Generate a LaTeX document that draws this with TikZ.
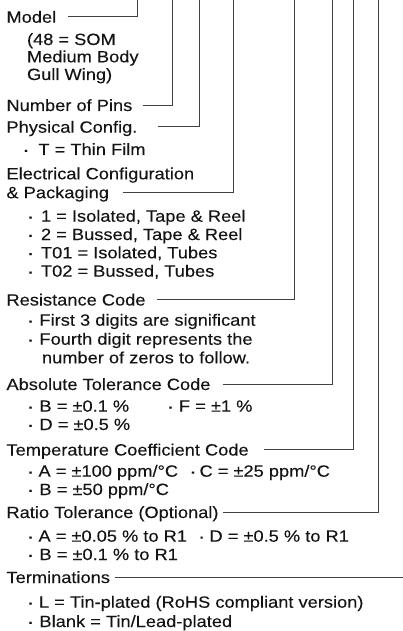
\documentclass[tikz,border=0pt]{standalone}
\usepackage{fontspec}
\setmainfont{Liberation Sans}[FakeStretch=1.12,FakeBold=0.15]
\newcommand{\lblfont}{\fontsize{16.3}{18}\selectfont}
\newcommand{\bulfont}{\fontsize{19}{20}\selectfont}
\begin{document}
\begin{tikzpicture}[x=1pt,y=-1pt,
  lbl/.style={anchor=base west,inner sep=0pt,outer sep=0pt,font=\lblfont,text=black!92},
  hdr/.style={lbl,text height=11.7pt,text depth=0pt},
  bul/.style={anchor=base,inner sep=0pt,outer sep=0pt,font=\bulfont,text=black!92,yshift=-1pt},
  conn/.style={draw=black!75,line width=1pt}]
\useasboundingbox (0,0) rectangle (403,631);

% headers and items
\node[hdr] (model) at (6.5,22.7) {Model};
\node[lbl] (m1) at (27,45) {(48 = SOM};
\node[lbl] (m2) at (27,62.3) {Medium Body};
\node[lbl] (m3) at (27,80) {Gull Wing)};
\node[hdr] (pins) at (6.5,111) {Number of Pins};
\node[hdr] (phys) at (6.5,132.7) {Physical Config.};
\node[bul] (b1) at (26,155) {·};
\node[lbl] (p1) at (38.5,155) {T = Thin Film};
\node[lbl] (elec1) at (6.5,179.3) {Electrical Configuration};
\node[hdr] (elec) at (6.5,198.2) {\& Packaging};
\node[bul] (b2) at (30.5,221.7) {·};
\node[lbl] (e1) at (41,221.7) {1 = Isolated, Tape \& Reel};
\node[bul] (b3) at (30.5,240) {·};
\node[lbl] (e2) at (41,240) {2 = Bussed, Tape \& Reel};
\node[bul] (b4) at (30.5,258.3) {·};
\node[lbl] (e3) at (41,258.3) {T01 = Isolated, Tubes};
\node[bul] (b5) at (30.5,276.7) {·};
\node[lbl] (e4) at (41,276.7) {T02 = Bussed, Tubes};
\node[hdr] (res) at (6.5,305.5) {Resistance Code};
\node[bul] (b6) at (30.5,325.7) {·};
\node[lbl] (r1) at (39.5,325.7) {First 3 digits are significant};
\node[bul] (b7) at (30.5,344.7) {·};
\node[lbl] (r2) at (39.5,344.7) {Fourth digit represents the};
\node[lbl] (r3) at (42,363.3) {number of zeros to follow.};
\node[hdr] (abs) at (6.5,390) {Absolute Tolerance Code};
\node[bul] (b8) at (30.5,411.7) {·};
\node[lbl] (a1) at (39.5,411.7) {B = ±0.1 \%};
\node[bul] (b9) at (170.5,411.7) {·};
\node[lbl] (a2) at (179,411.7) {F = ±1 \%};
\node[bul] (b10) at (30.5,430) {·};
\node[lbl] (a3) at (39.5,430) {D = ±0.5 \%};
\node[hdr] (temp) at (6.5,455.5) {Temperature Coefficient Code};
\node[bul] (b11) at (30.5,476.7) {·};
\node[lbl] (c1) at (38.5,476.7) {A = ±100 ppm/°C};
\node[bul] (b12) at (193,476.7) {·};
\node[lbl] (c2) at (199.5,476.7) {C = ±25 ppm/°C};
\node[bul] (b13) at (30.5,495) {·};
\node[lbl] (c3) at (39.5,495) {B = ±50 ppm/°C};
\node[hdr] (ratio) at (6.5,518) {Ratio Tolerance (Optional)};
\node[bul] (b14) at (30.5,541.7) {·};
\node[lbl] (t1a) at (38.5,541.7) {A = ±0.05 \% to R1};
\node[bul] (b15) at (201.7,541.7) {·};
\node[lbl] (t2a) at (209.5,541.7) {D = ±0.5 \% to R1};
\node[bul] (b16) at (30.5,560) {·};
\node[lbl] (t3a) at (39.5,560) {B = ±0.1 \% to R1};
\node[hdr] (term) at (6.5,583) {Terminations};
\node[bul] (b17) at (30.5,607.7) {·};
\node[lbl] (l1) at (39,607.7) {L = Tin-plated (RoHS compliant version)};
\node[bul] (b18) at (30.5,627) {·};
\node[lbl] (l2) at (39.5,627) {Blank = Tin/Lead-plated};

% connector ends
\coordinate (t1) at (137.7,0);
\coordinate (t2) at (172.7,0);
\coordinate (t3) at (199.3,0);
\coordinate (t4) at (233.7,0);
\coordinate (t5) at (294,0);
\coordinate (t6) at (332,0);
\coordinate (t7) at (353.7,0);
\coordinate (t8) at (378,0);
\coordinate (t9) at (403,0);
\coordinate (s1) at (68,0);
\coordinate (s2) at (143,0);
\coordinate (s3) at (158,0);
\coordinate (s4) at (122.7,0);
\coordinate (s5) at (156.7,0);
\coordinate (s6) at (222.7,0);
\coordinate (s7) at (264.3,0);
\coordinate (s8) at (222.5,0);
\coordinate (s9) at (115,0);

\draw[conn] (model.east -| s1) -| (t1);
\draw[conn] (pins.east -| s2) -| (t2);
\draw[conn] (phys.east -| s3) -| (t3);
\draw[conn] (elec.east -| s4) -| (t4);
\draw[conn] (res.east -| s5) -| (t5);
\draw[conn] (abs.east -| s6) -| (t6);
\draw[conn] (temp.east -| s7) -| (t7);
\draw[conn] (ratio.east -| s8) -| (t8);
\draw[conn] (term.east -| s9) -- (term.east -| t9);
\end{tikzpicture}
\end{document}
